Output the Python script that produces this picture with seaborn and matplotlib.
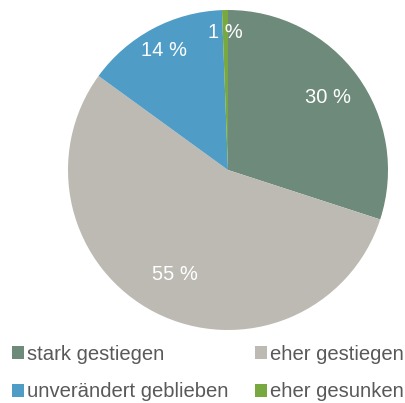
import numpy as np
import matplotlib
matplotlib.use("Agg")
import matplotlib.pyplot as plt
import seaborn as sns
from matplotlib.patches import Patch

# === Daten
kategorien = ["stark gestiegen", "eher gestiegen", "unverändert geblieben", "eher gesunken"]
anteile = [30, 55, 14.4, 0.6]
farben = ["#6e8a7b", "#bdbab3", "#4f9cc6", "#78a840"]
label_abstand = [0.77, 0.73, 0.85, 0.86]

sns.set_theme(style="white")
plt.rcParams["font.family"] = ["Liberation Sans", "DejaVu Sans"]

fig = plt.figure(figsize=(4.06, 4.03), dpi=100)
ax = fig.add_axes([68 / 406, (403 - 330) / 403, 320 / 406, 320 / 403])

wedges, texts = ax.pie(
    anteile, colors=farben, startangle=90, counterclock=False,
    wedgeprops=dict(linewidth=0),
)
ax.set_aspect("equal")
ax.set_xlim(-1, 1)
ax.set_ylim(-1, 1)

# Prozentlabels
for w, wert, r in zip(wedges, anteile, label_abstand):
    ang = np.deg2rad((w.theta1 + w.theta2) / 2)
    ax.text(r * np.cos(ang), r * np.sin(ang), f"{round(wert):.0f} %", color="white",
            fontsize=14.5, ha="center", va="center")

# Legende (zeilenweise wie im Original)
reihenfolge = [0, 2, 1, 3]
handles = [Patch(facecolor=farben[i], edgecolor="none") for i in reihenfolge]
labels = [kategorien[i] for i in reihenfolge]
fig.legend(handles, labels, loc="upper left", bbox_to_anchor=(12 / 406, 1 - 345 / 403),
           ncol=2, frameon=False, fontsize=14.6, handlelength=0.6, handleheight=0.6,
           handletextpad=0.15, columnspacing=1.3, labelspacing=0.9,
           labelcolor="#595959", borderaxespad=0, borderpad=0)

fig.savefig("out.png", dpi=100)
